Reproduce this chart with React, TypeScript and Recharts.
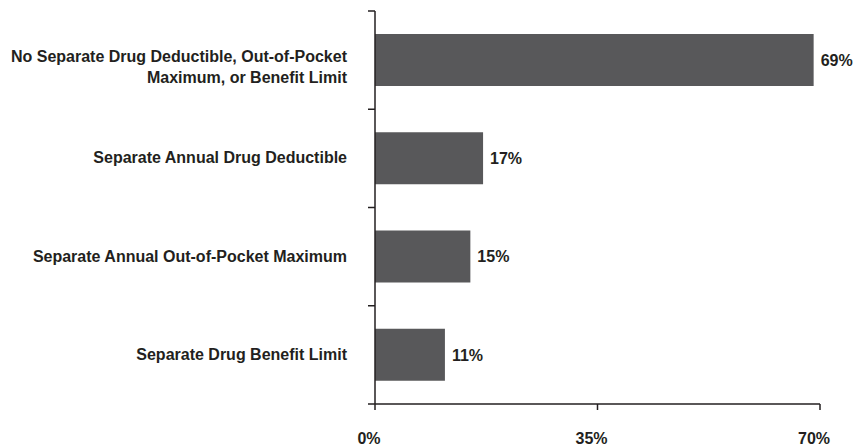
import { BarChart, Bar, XAxis, YAxis, LabelList } from "recharts";

const categories = [
  "No Separate Drug Deductible, Out-of-Pocket\nMaximum, or Benefit Limit",
  "Separate Annual Drug Deductible",
  "Separate Annual Out-of-Pocket Maximum",
  "Separate Drug Benefit Limit",
];
const shares = [69, 17, 15, 11];
const xTicks = [0, 35, 70];

const data = categories.map((name, i) => ({ name, value: shares[i] }));

const INK = "#231f20";
const FONT = "'Liberation Sans', Arial, Helvetica, sans-serif";
const TICK_SIZE = 7;
const TICK_MARGIN = 21;

// category labels, wrapped on "\n"; tick marks sit on the band edges
const CategoryTick = (props: any) => {
  const { x, y, payload, index, visibleTicksCount } = props;
  const half = payload.offset ?? 0;
  const axisX = x + TICK_SIZE + TICK_MARGIN;
  const lines = String(payload.value).split("\n");
  const first = lines.length > 1 ? 2 : 5;
  const edges = [y - half];
  if (index === visibleTicksCount - 1) edges.push(y + half);
  return (
    <g>
      {edges.map((ey, i) => (
        <line
          key={i}
          x1={axisX - TICK_SIZE}
          x2={axisX}
          y1={ey}
          y2={ey}
          stroke={INK}
          strokeWidth={1.5}
        />
      ))}
      <text
        x={x}
        y={y}
        textAnchor="end"
        fill={INK}
        fontFamily={FONT}
        fontSize={16}
        fontWeight="bold"
      >
        {lines.map((line, i) => (
          <tspan key={i} x={x} y={y + first + i * 21}>
            {line}
          </tspan>
        ))}
      </text>
    </g>
  );
};

export default function App() {
  return (
    <div style={{ position: "absolute", left: 0, top: 0, background: "#fff" }}>
      <BarChart
        width={865}
        height={448}
        data={data}
        layout="vertical"
        margin={{ top: 11, right: 45, bottom: 0, left: 0 }}
        barCategoryGap="23.5%"
      >
        <YAxis
          type="category"
          dataKey="name"
          width={375}
          axisLine={{ stroke: INK, strokeWidth: 1.5 }}
          tickLine={false}
          tickSize={TICK_SIZE}
          tickMargin={TICK_MARGIN}
          tick={<CategoryTick />}
          interval={0}
        />
        <XAxis
          type="number"
          domain={[0, 70]}
          ticks={xTicks}
          height={44}
          tickFormatter={(v: number) => `${v}%`}
          tickSize={6}
          tickMargin={23}
          tick={{ fill: INK, fontSize: 16, fontWeight: "bold", fontFamily: FONT, dx: -6 }}
          tickLine={{ stroke: INK, strokeWidth: 1.5 }}
          axisLine={{ stroke: INK, strokeWidth: 1.5 }}
        />
        <Bar dataKey="value" fill="#58585a" isAnimationActive={false}>
          <LabelList
            dataKey="value"
            position="right"
            offset={7}
            formatter={(v: any) => `${v}%`}
            fill={INK}
            fontSize={16}
            fontWeight="bold"
            fontFamily={FONT}
          />
        </Bar>
      </BarChart>
    </div>
  );
}
